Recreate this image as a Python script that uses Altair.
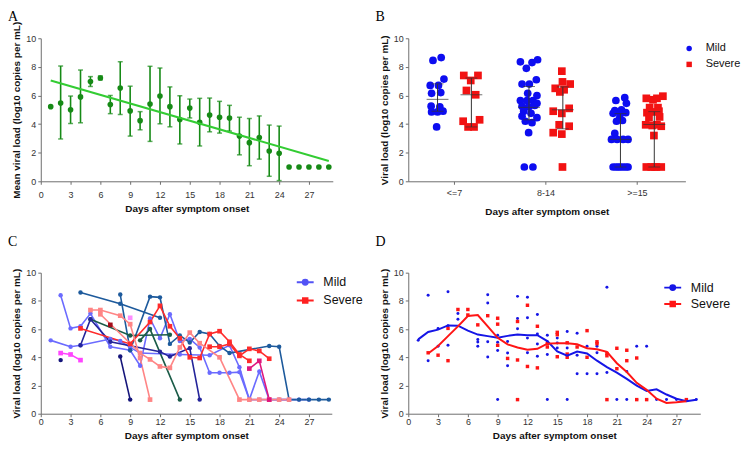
import altair as alt
import pandas as pd

FONT = "Liberation Sans"
SERIF = "Liberation Serif"

# ---------------- Panel A: mean viral load by day ----------------
a_days = list(range(1, 30))
a_mean = [5.22, 5.47, 5.0, 5.9, 6.97, 7.22, 5.37, 6.52, 4.92, 4.24, 5.4, 5.96, 5.22, 4.32,
          5.12, 4.12, 4.63, 4.48, 4.43, 3.16, 2.7, 3.06, 2.12, 1.96, 1.0, 1.0, 1.0, 1.0, 1.0]
a_err_days = list(range(2, 25))
a_err_lo = [2.96, 4.04, 4.09, 6.63, 7.09, 4.73, 4.67, 3.16, 3.6, 2.79, 4.02, 3.81, 2.61, 4.43,
            2.47, 3.46, 3.37, 3.51, 1.85, 1.09, 1.55, 0.35, 0.05]
a_err_hi = [8.06, 5.96, 7.78, 7.32, 7.37, 6.0, 8.36, 6.65, 4.87, 8.04, 7.92, 6.6, 5.98, 5.75,
            5.8, 5.82, 5.59, 5.31, 4.48, 4.39, 4.57, 3.93, 3.86]
a_fit_days = [1, 29]
a_fit_vals = [7.05, 1.42]

# ---------------- Panel B: grouped scatter ----------------
b_groups = ["<=7", "8-14", ">=15"]
b_severity = ["Mild", "Severe"]
b_mild_vals = [
    [8.45, 8.65, 7.15, 6.7, 6.7, 6.15, 6.2, 5.25, 5.2, 4.85, 4.85, 4.9, 3.8],
    [8.35, 7.9, 8.3, 8.5, 6.8, 6.8, 7.1, 6.15, 6.0, 5.65, 5.65, 5.65, 5.45, 5.25, 5.2, 5.3,
     4.9, 4.75, 4.55, 4.45, 4.2, 4.1, 3.4, 1.0, 1.0],
    [5.65, 5.85, 5.45, 4.95, 5.0, 4.75, 4.75, 4.8, 4.45, 4.2, 4.25, 3.35, 2.93, 2.93, 2.93,
     2.93, 1.0, 1.0, 1.0, 1.0, 1.0, 1.0, 1.0],
]
b_mild_jit = [
    [-0.05, 0.04, 0.07, -0.08, 0.01, -0.065, 0.035, -0.07, 0.025, -0.065, 0.0, 0.06, -0.01],
    [-0.094, -0.029, 0.033, 0.094, -0.076, 0.004, 0.08, -0.014, 0.087, -0.094, -0.022, 0.043,
     0.087, -0.076, -0.004, 0.062, -0.058, 0.022, -0.076, 0.087, -0.04, 0.033, -0.004, -0.051, 0.043],
    [-0.05, 0.047, 0.065, -0.062, 0.011, -0.08, -0.007, 0.058, -0.007, -0.043, 0.022, -0.062,
     -0.098, -0.036, 0.029, 0.083, -0.08, -0.025, 0.029, 0.083, -0.05, 0.0, 0.058],
]
b_sev_vals = [
    [7.4, 7.4, 7.05, 6.35, 6.05, 4.2, 4.3, 3.8, 3.8],
    [7.7, 6.95, 6.5, 6.8, 6.4, 6.25, 4.9, 5.1, 4.75, 3.4, 3.3, 3.85, 3.95, 1.0],
    [5.8, 5.7, 5.8, 5.95, 5.15, 5.15, 4.8, 4.85, 4.9, 4.45, 4.5, 3.95, 3.9, 3.95, 3.85, 3.2,
     1.0, 1.0, 1.0, 1.0, 1.0],
]
b_sev_jit = [
    [-0.083, 0.072, -0.007, -0.054, 0.047, -0.09, 0.09, -0.036, 0.029],
    [-0.011, -0.004, -0.083, 0.08, 0.014, -0.033, -0.105, 0.069, -0.011, -0.105, -0.011, 0.069,
     -0.04, -0.004],
    [-0.087, -0.014, 0.029, 0.094, -0.051, 0.04, -0.08, -0.014, 0.051, -0.058, 0.058, -0.094,
     -0.022, 0.029, 0.076, -0.004, -0.087, -0.033, 0.022, 0.076, 0.0],
]
b_med = {"Mild": [5.73, 5.17, 2.93], "Severe": [6.05, 5.0, 3.97]}
b_q1 = {"Mild": [4.9, 4.3, 1.0], "Severe": [3.8, 3.67, 1.0]}
b_q3 = {"Mild": [6.81, 6.63, 4.73], "Severe": [7.22, 6.6, 4.87]}

# ---------------- Panel C: individual patients ----------------
PERI, BLUE2, STEEL, NAVY, TEAL = "#6b6bff", "#24249a", "#1d5a9c", "#14147a", "#1b5c48"
SALMON, RED, DKRED, MAG, LTMAG, DPINK = "#ff8585", "#ff2b2b", "#a30d1a", "#ff45ff", "#ff8cff", "#e0177c"
c_traces = [
    ("Mild", PERI, [1, 3, 4, 7, 8, 9, 10, 14, 17, 19, 20, 21, 22, 23, 24, 25],
     [5.2, 4.75, 4.85, 5.3, 5.15, 4.7, 4.3, 4.2, 4.15, 4.85, 3.3, 1, 1, 1, 1, 1]),
    ("Mild", PERI, [2, 3, 4, 5, 7, 9, 10, 11, 12, 13, 14, 15, 16, 17, 18, 19, 20, 21, 22, 23, 24, 25, 26, 27],
     [8.4, 6.05, 6.2, 7.1, 4.75, 4.5, 3.4, 6.75, 5.35, 7.05, 5.15, 5.3, 4.7, 2.9, 2.9, 2.9, 2.95, 1, 3.0, 1, 1, 1, 1, 1]),
    ("Mild", STEEL, [4, 8, 12], [8.6, 7.8, 6.8]),
    ("Mild", STEEL, [8, 9, 11, 12, 13, 14, 15, 16, 17, 18, 19, 23, 24, 25, 26, 27, 28, 29],
     [8.45, 4.5, 8.3, 8.25, 4.95, 5.55, 5.05, 5.8, 5.65, 4.8, 4.3, 4.8, 4.75, 1, 1, 1, 1, 1]),
    ("Mild", TEAL, [5, 9, 13], [6.7, 5.55, 5.6]),
    ("Mild", TEAL, [10, 11, 14], [5.2, 6.0, 1.0]),
    ("Mild", NAVY, [8, 9], [4.05, 1.0]),
    ("Mild", NAVY, [2], [3.8]),
    ("Mild", BLUE2, [4, 5, 7, 12, 13, 15, 16], [4.85, 6.7, 5.1, 4.4, 4.05, 4.65, 1.0]),
    ("Severe", RED, [4, 9, 11, 12, 13, 14, 15, 16, 17, 18, 19, 20, 21],
     [6.05, 4.95, 6.5, 7.65, 6.2, 5.35, 4.0, 3.95, 5.65, 5.85, 5.1, 4.2, 3.75]),
    ("Severe", RED, [17, 18, 19, 20, 21, 22, 23], [4.75, 4.75, 4.95, 4.1, 4.6, 4.45, 3.9]),
    ("Severe", SALMON, [5, 6, 8, 9, 10, 11], [7.35, 7.35, 6.95, 6.35, 3.95, 1.0]),
    ("Severe", SALMON, [6, 10, 11, 12, 13, 14, 15, 16, 18, 20, 21, 22, 23, 24, 25],
     [7.05, 4.3, 3.85, 3.35, 3.25, 4.7, 5.75, 5.0, 4.0, 1, 1, 1, 1, 1, 1]),
    ("Severe", MAG, [2, 3, 4], [4.3, 4.2, 3.8]),
    ("Severe", LTMAG, [9], [6.8]),
    ("Severe", DKRED, [7], [6.3]),
    ("Severe", DPINK, [21, 22, 23], [3.2, 3.75, 1.0]),
]

# ---------------- Panel D: all points + smoothed curves ----------------
d_mild_pts = {1: [5.2], 2: [8.4, 3.76], 3: [6.05, 4.78], 4: [8.64, 6.23, 4.85], 5: [7.11, 6.7],
              7: [5.26, 5.08, 4.78], 8: [8.43, 7.85, 5.1, 4.02], 9: [5.56, 5.06, 4.49, 1.0],
              10: [5.12, 4.3, 3.4], 11: [8.32, 6.75, 6.02], 12: [8.25, 6.8, 5.36, 4.32],
              13: [7.04, 5.65, 4.94, 4.08], 14: [5.56, 5.1, 4.2, 1.0], 15: [5.36, 5.01, 4.66],
              16: [5.83, 4.66, 1.0], 17: [5.7, 4.15, 2.84], 18: [4.79, 2.84], 19: [4.79, 4.33, 2.84],
              20: [8.96, 2.93], 21: [1.0], 22: [3.0, 1.0], 23: [4.79, 1.0], 24: [4.79, 1.0],
              25: [1.0], 26: [1.0], 27: [1.0], 28: [1.0], 29: [1.0]}
d_sev_pts = {2: [4.32], 3: [4.15], 4: [6.05, 3.76], 5: [7.39], 6: [7.39, 7.0], 7: [6.3], 8: [6.95],
             9: [6.77, 6.35, 4.85], 10: [3.92], 11: [6.54, 3.81, 1.0], 12: [7.69, 3.35],
             13: [6.2, 3.25], 14: [4.97, 4.73], 15: [5.77, 5.6, 4.04], 16: [5.03, 4.23, 4.0],
             17: [4.73], 18: [5.89, 4.0], 19: [5.1, 4.96], 20: [4.27, 4.11, 1.0], 21: [4.64, 3.19],
             22: [4.5, 3.76], 23: [3.95, 1.0], 24: [1.0], 28: [1.0]}
d_fit_mild_days = list(range(1, 30))
d_fit_mild = [5.27, 5.8, 5.96, 6.26, 6.24, 5.89, 5.61, 5.5, 5.38, 5.52, 5.61, 5.57, 5.57, 5.15,
              4.41, 4.11, 4.41, 4.27, 3.76, 3.3, 2.91, 2.47, 1.99, 1.62, 1.73, 1.36, 1.06, 0.88, 0.99]
d_fit_sev_days = list(range(2, 29))
d_fit_sev = [4.27, 4.8, 5.5, 6.19, 6.93, 7.0, 6.19, 5.38, 4.92, 4.69, 4.53, 4.6, 4.97, 4.99,
             4.99, 4.92, 4.64, 4.57, 4.39, 3.58, 2.96, 2.19, 1.69, 1.06, 0.76, 0.81, 0.88]

# ---------------- styling ----------------
GREEN, LGREEN = "#168a16", "#33cc33"
B_BLUE, B_RED = "#0d0df0", "#f21212"
C_LEG = ["#5353f5", "#ff2020"]
D_BLUE, D_RED = "#1515e6", "#ff1515"
Y_TICKS = [0, 2, 4, 6, 8, 10]
X_TICKS = list(range(0, 28, 3))
XTITLE = "Days after symptom onset"
YTITLE_A = "Mean viral load (log10 copies per mL)"
YTITLE = "Viral load (log10 copies per mL)"
PATH_CIRC = "M-1.7,0L1.7,0M0.5,0A0.5,0.5,0,1,1,-0.5,0A0.5,0.5,0,1,1,0.5,0Z"
PATH_SQ = "M-1.7,0L1.7,0M-0.45,-0.45L0.45,-0.45L0.45,0.45L-0.45,0.45Z"


def y_enc(field, title):
    return alt.Y(field, scale=alt.Scale(domain=[0, 10], nice=False),
                 axis=alt.Axis(values=Y_TICKS, title=title, titlePadding=4))


def x_day(xmax, label_pad, title_pad):
    return alt.X("day:Q", scale=alt.Scale(domain=[0, xmax], nice=False),
                 axis=alt.Axis(values=X_TICKS, title=XTITLE, labelPadding=label_pad,
                               titlePadding=title_pad))


def panel_title(letter, off):
    return alt.TitleParams(text=letter, anchor="start", frame="group", font=SERIF, fontSize=14,
                           fontWeight="normal", color="#000000", dx=-33, offset=off)


def line_legend(lx, ly, rowpad):
    return alt.Legend(title=None, orient="none", legendX=lx, legendY=ly, symbolSize=100,
                      symbolStrokeWidth=2, labelFontSize=12.5, labelFont=FONT, labelColor="#111111",
                      labelOffset=12, rowPadding=rowpad, padding=0)


# ---- A ----
dfA = pd.DataFrame({"day": a_days, "val": a_mean})
dfAe = pd.DataFrame({"day": a_err_days, "lo": a_err_lo, "hi": a_err_hi})
dfAf = pd.DataFrame({"day": a_fit_days, "val": a_fit_vals})
xA = x_day(29.4, 6, 4.5)
A = alt.layer(
    alt.Chart(dfAe).mark_rule(color=GREEN, strokeWidth=1.6).encode(x=xA, y=y_enc("lo:Q", YTITLE_A), y2="hi:Q"),
    alt.Chart(dfAe).mark_tick(color=GREEN, orient="horizontal", size=5, thickness=1.5).encode(x=xA, y=y_enc("lo:Q", YTITLE_A)),
    alt.Chart(dfAe).mark_tick(color=GREEN, orient="horizontal", size=5, thickness=1.5).encode(x=xA, y=y_enc("hi:Q", YTITLE_A)),
    alt.Chart(dfA).mark_circle(color=GREEN, size=32, opacity=1).encode(x=xA, y=y_enc("val:Q", YTITLE_A)),
    alt.Chart(dfAf).mark_line(color=LGREEN, strokeWidth=2).encode(x=xA, y=y_enc("val:Q", YTITLE_A)),
).properties(width=294, height=144, title=panel_title("A", -2.5))

# ---- B ----
rowsB = []
for gi in range(len(b_groups)):
    for v, j in zip(b_mild_vals[gi], b_mild_jit[gi]):
        rowsB.append({"g": gi, "sev": "Mild", "val": v, "jit": j})
    for v, j in zip(b_sev_vals[gi], b_sev_jit[gi]):
        rowsB.append({"g": gi, "sev": "Severe", "val": v, "jit": j})
dfB = pd.DataFrame(rowsB)
rowsBs = []
for s in b_severity:
    for gi in range(len(b_groups)):
        rowsBs.append({"g": gi, "sev": s, "med": b_med[s][gi], "q1": b_q1[s][gi], "q3": b_q3[s][gi]})
dfBs = pd.DataFrame(rowsBs)
OFF = "(datum.sev == 'Mild' ? -0.18 : 0.19)"
label_expr = "[" + ",".join("'%s'" % g for g in b_groups) + "][datum.value]"
xB = alt.X("pos:Q", scale=alt.Scale(domain=[-0.5, 2.53], nice=False, zero=False),
           axis=alt.Axis(values=[0, 1, 2], labelExpr=label_expr, title=XTITLE, labelPadding=4,
                         titlePadding=9))
legB = alt.Legend(title=None, orient="none", legendX=277.3, legendY=4.8, symbolSize=30,
                  labelFontSize=11, labelFont=FONT, labelColor="#111111", labelOffset=11.2,
                  rowPadding=4, padding=0)
B_pts = alt.Chart(dfB).transform_calculate(pos="datum.g + " + OFF + " + datum.jit").mark_point(
    filled=True, size=60, opacity=1).encode(
    x=xB, y=y_enc("val:Q", YTITLE),
    color=alt.Color("sev:N", scale=alt.Scale(domain=b_severity, range=[B_BLUE, B_RED]), legend=legB),
    shape=alt.Shape("sev:N", scale=alt.Scale(domain=b_severity, range=["circle", "square"]), legend=legB))
B_sum = alt.Chart(dfBs).transform_calculate(pos="datum.g + " + OFF)
B = alt.layer(
    B_pts,
    B_sum.mark_rule(color="#333333", strokeWidth=1).encode(x=xB, y=y_enc("q1:Q", YTITLE), y2="q3:Q"),
    B_sum.mark_tick(color="#333333", orient="horizontal", size=22, thickness=1).encode(x=xB, y=y_enc("med:Q", YTITLE)),
    B_sum.mark_tick(color="#333333", orient="horizontal", size=12, thickness=1).encode(x=xB, y=y_enc("q1:Q", YTITLE)),
    B_sum.mark_tick(color="#333333", orient="horizontal", size=12, thickness=1).encode(x=xB, y=y_enc("q3:Q", YTITLE)),
).properties(width=279, height=144, title=panel_title("B", 10))

# ---- C ----
rowsC = []
for i, (grp, col, ds, vs) in enumerate(c_traces):
    for d, v in zip(ds, vs):
        rowsC.append({"pid": i, "grp": grp, "col": col, "day": d, "val": v})
dfC = pd.DataFrame(rowsC)
xC = x_day(29.3, 1, 4)
legend_rows = pd.DataFrame({"grp": b_severity, "day": [None, None], "val": [None, None]})
legC = line_legend(260, 3.3, 5.4)
C = alt.layer(
    alt.Chart(dfC).mark_line(strokeWidth=1.6).encode(
        x=xC, y=y_enc("val:Q", YTITLE), detail="pid:N", order="day:Q",
        color=alt.Color("col:N", scale=None)),
    alt.Chart(dfC).transform_filter("datum.grp == 'Mild'").mark_circle(size=20, opacity=1).encode(
        x=xC, y=y_enc("val:Q", YTITLE), color=alt.Color("col:N", scale=None)),
    alt.Chart(dfC).transform_filter("datum.grp == 'Severe'").mark_square(size=22, opacity=1).encode(
        x=xC, y=y_enc("val:Q", YTITLE), color=alt.Color("col:N", scale=None)),
    alt.Chart(legend_rows).mark_point(filled=True, opacity=1).encode(
        x=xC, y=y_enc("val:Q", YTITLE),
        fill=alt.Fill("grp:N", scale=alt.Scale(domain=b_severity, range=C_LEG), legend=legC),
        stroke=alt.Stroke("grp:N", scale=alt.Scale(domain=b_severity, range=C_LEG), legend=legC),
        shape=alt.Shape("grp:N", scale=alt.Scale(domain=b_severity, range=[PATH_CIRC, PATH_SQ]), legend=legC)),
).properties(width=293, height=142, title=panel_title("C", 19))

# ---- D ----
dfDm = pd.DataFrame([{"day": d, "val": v} for d, vs in d_mild_pts.items() for v in vs])
dfDs = pd.DataFrame([{"day": d, "val": v} for d, vs in d_sev_pts.items() for v in vs])
dfDfm = pd.DataFrame({"day": d_fit_mild_days, "val": d_fit_mild})
dfDfs = pd.DataFrame({"day": d_fit_sev_days, "val": d_fit_sev})
xD = x_day(29.4, 1, 4)
legD = line_legend(260, 8.8, 3.5)
D = alt.layer(
    alt.Chart(dfDm).mark_circle(size=9, opacity=1, color=D_BLUE).encode(x=xD, y=y_enc("val:Q", YTITLE)),
    alt.Chart(dfDs).mark_square(size=12, opacity=1, color=D_RED).encode(x=xD, y=y_enc("val:Q", YTITLE)),
    alt.Chart(dfDfm).mark_line(strokeWidth=2, color=D_BLUE).encode(x=xD, y=y_enc("val:Q", YTITLE)),
    alt.Chart(dfDfs).mark_line(strokeWidth=2, color=D_RED).encode(x=xD, y=y_enc("val:Q", YTITLE)),
    alt.Chart(legend_rows).mark_point(filled=True, opacity=1).encode(
        x=xD, y=y_enc("val:Q", YTITLE),
        fill=alt.Fill("grp:N", scale=alt.Scale(domain=b_severity, range=[D_BLUE, D_RED]), legend=legD),
        stroke=alt.Stroke("grp:N", scale=alt.Scale(domain=b_severity, range=[D_BLUE, D_RED]), legend=legD),
        shape=alt.Shape("grp:N", scale=alt.Scale(domain=b_severity, range=[PATH_CIRC, PATH_SQ]), legend=legD)),
).properties(width=294, height=142, title=panel_title("D", 19))

chart = alt.concat(A, B, C, D, columns=2, spacing={"row": 92, "column": 76}, bounds="flush").resolve_scale(
    color="independent", shape="independent", fill="independent", stroke="independent"
).resolve_legend(
    color="independent", shape="independent", fill="independent", stroke="independent"
).properties(
    padding={"left": 0, "top": 0, "right": 0, "bottom": 0}
).configure(font=FONT).configure_view(stroke=None).configure_axis(
    domainColor="#6e6e6e", tickColor="#6e6e6e", labelColor="#333333", titleColor="#111111",
    labelFont=FONT, titleFont=FONT, labelFontSize=9, titleFontSize=10, titleFontWeight="bold",
    grid=False, tickSize=3, labelPadding=2, domainWidth=1, tickWidth=1, labelFlush=False,
    labelOverlap=False
)

chart.save("out.html", embed_options={"renderer": "svg", "actions": False})
